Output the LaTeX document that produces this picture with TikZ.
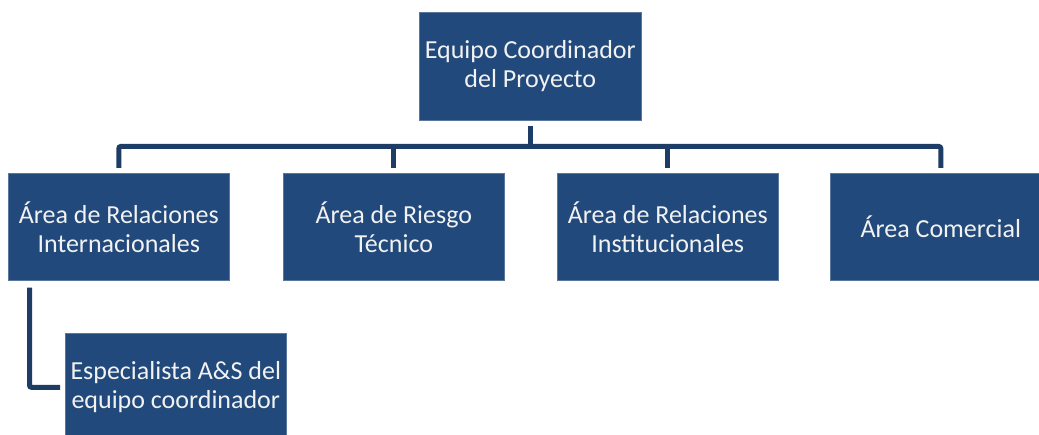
\documentclass[tikz,border=0pt]{standalone}
\usepackage{fontspec}
\setmainfont{Carlito}
\definecolor{boxblue}{HTML}{21497B}
\definecolor{boxedge}{HTML}{5A789E}
\definecolor{connblue}{HTML}{1D3C66}
\begin{document}
\begin{tikzpicture}[x=1pt,y=-1pt,
  box/.style={fill=boxblue, draw=boxedge, line width=0.6pt, text=white!95!black, align=center,
    font=\fontsize{26}{29}\selectfont, minimum width=221pt, minimum height=107pt,
    inner sep=0pt, anchor=north west},
  conn/.style={draw=connblue, line width=5pt, rounded corners=2pt}]
\useasboundingbox (0,0) rectangle (1039,435);
\clip (0,0) rectangle (1039,435);
\node[box, minimum width=222pt, minimum height=108pt] (top) at (419,12) {Equipo Coordinador\\del Proyecto};
\node[box] (a1) at (8,173) {Área de Relaciones\\Internacionales};
\node[box] (a2) at (283,173) {Área de Riesgo\\Técnico};
\node[box] (a3) at (557,173) {Área de Relaciones\\Institucionales};
\node[box] (a4) at (830,173) {Área Comercial};
\node[box, minimum height=108pt] (sp) at (65,333) {Especialista A\&S del\\equipo coordinador};
\coordinate (bus) at (530,146.5);
\draw[conn] ([yshift=-5pt]top.south) -- (top.south |- bus);
\draw[conn] ([yshift=5pt]a1.north) -- (a1.north |- bus) -- (a4.north |- bus) -- ([yshift=5pt]a4.north);
\draw[conn] (a2.north |- bus) -- ([yshift=5pt]a2.north);
\draw[conn] (a3.north |- bus) -- ([yshift=5pt]a3.north);
\draw[conn] ([xshift=21.5pt,yshift=-7pt]a1.south west) |- ([xshift=-5pt]sp.west);
\end{tikzpicture}
\end{document}
